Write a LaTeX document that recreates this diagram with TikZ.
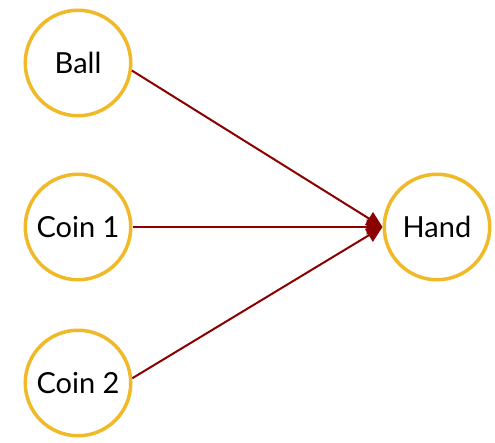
\documentclass[tikz,border=0pt]{standalone}
\usepackage{fontspec}
\setmainfont{Lato}
\usepackage{xcolor}
\usepackage{tikz}
\usetikzlibrary{arrows.meta, positioning}

\definecolor{ringgold}{RGB}{240,185,40}
\definecolor{linkred}{RGB}{139,0,0}

\begin{document}
\begin{tikzpicture}[x=1pt, y=1pt,
          obj/.style={circle, draw=ringgold, line width=3.5pt, fill=white,
                      minimum size=105.5pt, inner sep=0pt,
                      font=\fontsize{29}{35}\selectfont},
          arr/.style={-{Stealth[length=16pt, width=15pt, inset=0pt]},
                      line width=2pt, linkred}]
          \useasboundingbox (0,0) rectangle (495,-442);
          \node[obj] (ball) at (78,-63) {Ball};
          \node[obj, below=55pt of ball]  (coin1) {Coin 1};
          \node[obj, below=47pt of coin1] (coin2) {Coin 2};
          \node[obj, right=250pt of coin1] (hand) {Hand};
          \draw[arr] (ball.-8)--(hand.west);
          \draw[arr] (coin1)--(hand.west);
          \draw[arr] (coin2.5)--(hand.west);
        \end{tikzpicture}
\end{document}
